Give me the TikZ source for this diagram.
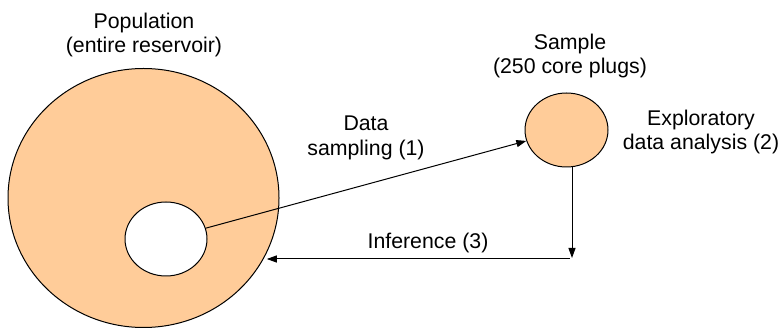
\documentclass[tikz,border=0pt]{standalone}
\usepackage{fontspec}
\setmainfont{Liberation Sans}
\usetikzlibrary{arrows.meta,shapes.geometric}
\definecolor{peach}{HTML}{FFCC99}
\begin{document}
\begin{tikzpicture}[x=1pt,y=-1pt,
  blob/.style={ellipse,draw=black,line width=1pt,inner sep=0pt},
  lbl/.style={align=center,inner sep=0pt,font=\fontsize{21.3}{24.5}\selectfont},
  conn/.style={line width=1pt,-{Triangle[length=10pt,width=7pt]}}]
\useasboundingbox (0,0) rectangle (779,328);
\node[blob,fill=peach,minimum width=271pt,minimum height=259pt] (big) at (143.5,198) {};
\node[blob,fill=white,minimum width=82pt,minimum height=74pt] (inner) at (166,239) {};
\node[blob,fill=peach,minimum width=83pt,minimum height=74pt] (small) at (566.5,130) {};
\node[lbl] (pop) at (144,35) {Population\\(entire reservoir)};
\node[lbl] (samp) at (570,56) {Sample\\(250 core plugs)};
\node[lbl] (eda) at (701,132) {Exploratory\\data analysis (2)};
\node[lbl] (ds) at (366,138) {Data\\sampling (1)};
\node[lbl] (inf) at (428,242.5) {Inference (3)};
\coordinate (corner) at (572,258);
\coordinate (hstart) at (570,259);
\draw[conn] (inner) -- (small);
\draw[conn] (small.south -| corner) -- (corner);
\draw[conn] (hstart) -- (hstart -| big.-24);
\end{tikzpicture}
\end{document}
